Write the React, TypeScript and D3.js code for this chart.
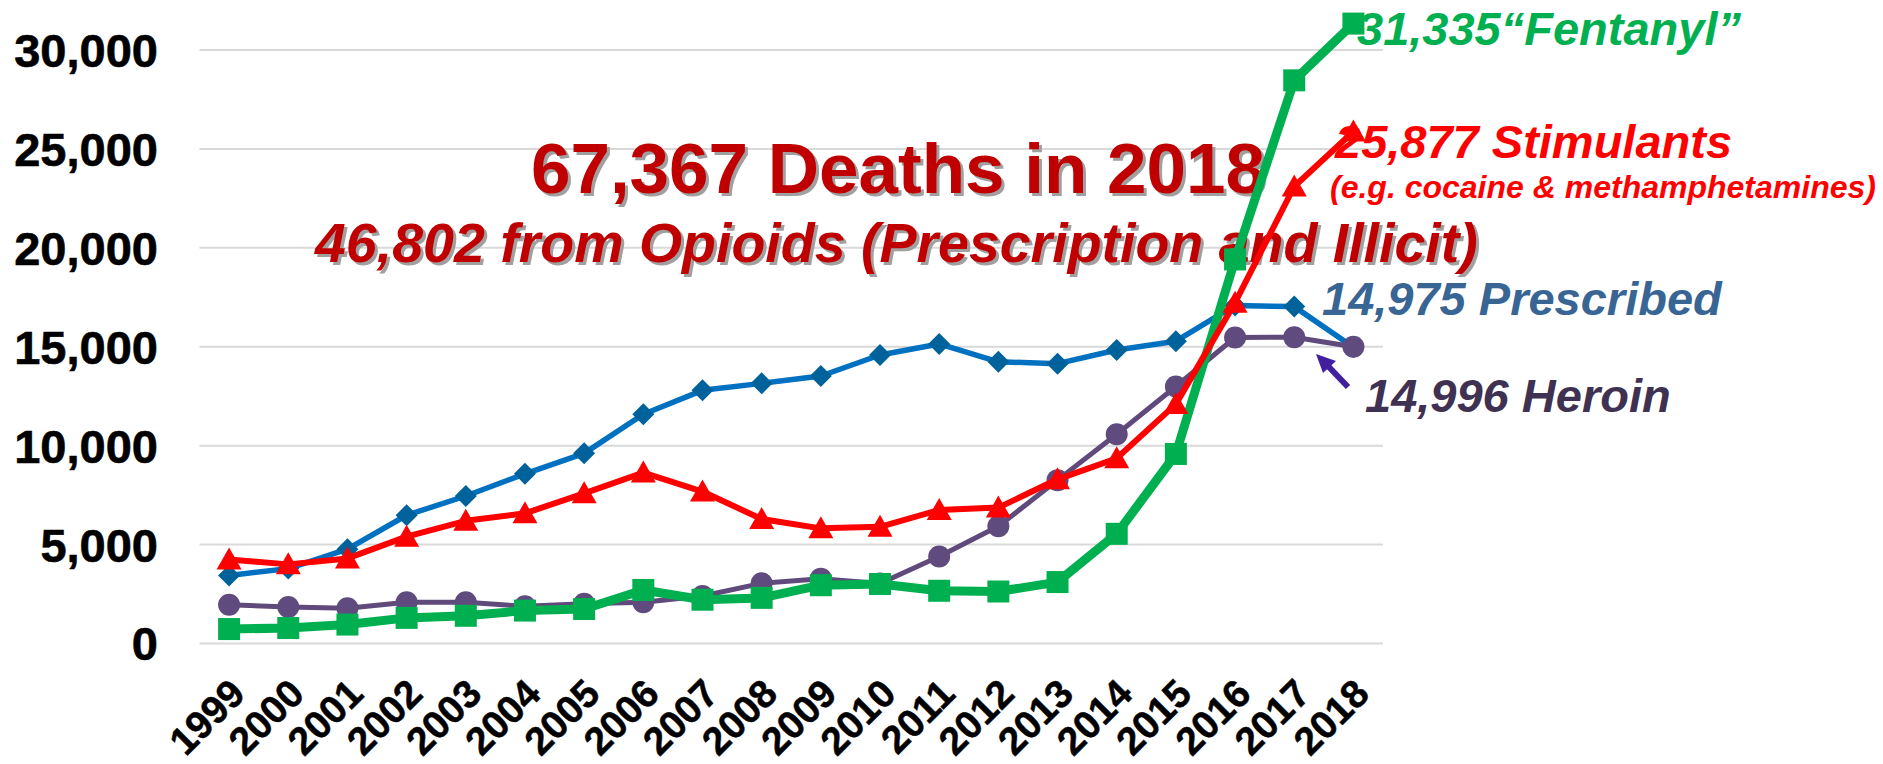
import React from "react";
import * as d3 from "d3";

const years = ["1999","2000","2001","2002","2003","2004","2005","2006","2007","2008","2009","2010","2011","2012","2013","2014","2015","2016","2017","2018"];
const prescribed = [3442,3785,4770,6483,7456,8577,9612,11589,12796,13149,13523,14583,15140,14240,14145,14838,15281,17087,17029,14975];
const heroin = [1960,1842,1779,2089,2080,1878,2009,2088,2399,3041,3278,3036,4397,5925,8257,10574,12989,15469,15482,14996];
const fentanyl = [730,782,957,1295,1400,1664,1742,2707,2213,2306,2946,3007,2666,2628,3105,5544,9580,19413,28466,31335];
const stimulants = [4250,4000,4300,5400,6200,6580,7590,8640,7680,6290,5820,5900,6750,6870,8300,9360,12100,17230,23100,25877];
const yTicks = [0,5000,10000,15000,20000,25000,30000];

const W = 1883, H = 764;
const FONT = "'Liberation Sans', Arial, Helvetica, sans-serif";

export default function App() {
  const x = d3.scaleBand<string>().domain(years).range([199.5, 1383]);
  const bw = x.bandwidth();
  const cx = (yr: string) => (x(yr) as number) + bw / 2;
  const y = d3.scaleLinear().domain([0, 30000]).range([643.5, 50]);
  const fmt = d3.format(",");

  const line = (vals: number[]) =>
    d3.line<number>().x((_, i) => cx(years[i])).y((v) => y(v))(vals) as string;

  const diamond = (r: number) => `M0,${-r}L${r},0L0,${r}L${-r},0Z`;
  const tri = `M0,-12L12.5,10L-12.5,10Z`;

  const Shadowed = ({ xx, yy, size, italic, anchor, children }: any) => (
    <g fontFamily={FONT} fontWeight="bold" fontStyle={italic ? "italic" : "normal"} fontSize={size} textAnchor={anchor}>
      <text x={xx + 3} y={yy + 3} fill="#A0A0A0">{children}</text>
      <text x={xx} y={yy} fill="#C00000">{children}</text>
    </g>
  );

  return (
    <svg width={W} height={H} style={{ position: "absolute", left: 0, top: 0, background: "#fff" }}>
      <rect x={0} y={0} width={W} height={H} fill="#fff" />
      {/* gridlines */}
      {yTicks.map((t) => (
        <line key={t} x1={199.5} x2={1383} y1={y(t)} y2={y(t)} stroke="#D9D9D9" strokeWidth={2} />
      ))}
      {/* y labels */}
      {yTicks.map((t) => (
        <text key={"yl" + t} x={158} y={y(t)} dy="0.36em" textAnchor="end" fontFamily={FONT} fontWeight="bold" fontSize={47} fill="#000" stroke="#000" strokeWidth={0.6}>
          {fmt(t)}
        </text>
      ))}
      {/* x labels */}
      {years.map((yr) => (
        <text key={"xl" + yr} transform={`translate(${cx(yr) + 18},${696}) rotate(-45)`} textAnchor="end" fontFamily={FONT} fontWeight="bold" fontSize={39} fill="#000" stroke="#000" strokeWidth={0.5}>
          {yr}
        </text>
      ))}

      {/* titles */}
      <Shadowed xx={898} yy={193} size={71} anchor="middle">67,367 Deaths in 2018</Shadowed>
      <Shadowed xx={315} yy={262} size={55.5} italic anchor="start">46,802 from Opioids (Prescription and Illicit)</Shadowed>

      {/* Prescribed (blue) */}
      <path d={line(prescribed)} fill="none" stroke="#0070C0" strokeWidth={5.5} strokeLinejoin="round" />
      {prescribed.map((v, i) => (
        <path key={"p" + i} d={diamond(11)} transform={`translate(${cx(years[i])},${y(v)})`} fill="#00629B" />
      ))}

      {/* Heroin (purple) */}
      <path d={line(heroin)} fill="none" stroke="#604A7B" strokeWidth={5} strokeLinejoin="round" />
      {heroin.map((v, i) => (
        <circle key={"h" + i} cx={cx(years[i])} cy={y(v)} r={11} fill="#5F4B7E" />
      ))}

      {/* Fentanyl (green) */}
      <path d={line(fentanyl)} fill="none" stroke="#00B050" strokeWidth={9} strokeLinejoin="round" />
      {fentanyl.map((v, i) => (
        <rect key={"f" + i} x={cx(years[i]) - 11} y={y(v) - 11} width={22} height={22} fill="#00B050" />
      ))}

      {/* Stimulants (red) */}
      <path d={line(stimulants)} fill="none" stroke="#FF0000" strokeWidth={6} strokeLinejoin="round" />
      {stimulants.map((v, i) => (
        <path key={"s" + i} d={tri} transform={`translate(${cx(years[i])},${y(v)})`} fill="#FF0000" />
      ))}

      {/* series labels */}
      <g fontFamily={FONT} fontWeight="bold" fontStyle="italic">
        <text x={1357} y={45} fontSize={47} fill="#00B050">31,335“Fentanyl”</text>
        <text x={1335} y={158} fontSize={47} fill="#FF0000">25,877 Stimulants</text>
        <text x={1330} y={198} fontSize={32} fill="#FF0000">(e.g. cocaine &amp; methamphetamines)</text>
        <text x={1322} y={315} fontSize={47} fill="#386593">14,975 Prescribed</text>
        <text x={1365} y={412} fontSize={47} fill="#3F3151">14,996 Heroin</text>
      </g>

      {/* heroin arrow */}
      <line x1={1348} y1={387} x2={1328} y2={366} stroke="#4120A0" strokeWidth={6} />
      <path d="M1316,354 L1336,361 L1323,373 Z" fill="#4120A0" />
    </svg>
  );
}
